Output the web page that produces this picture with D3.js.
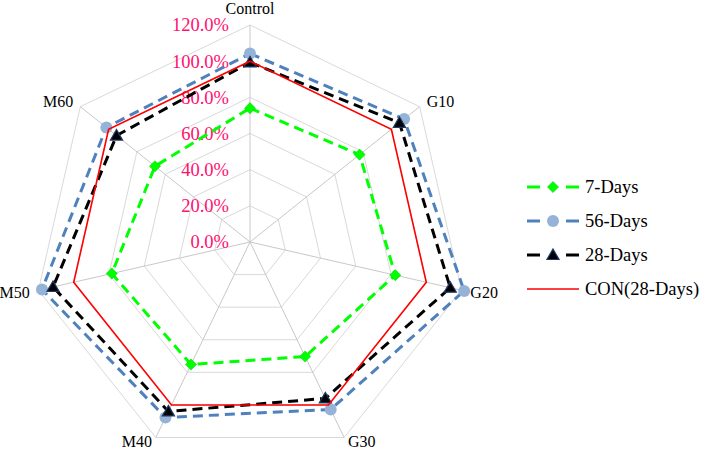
<!DOCTYPE html>
<html>
<head>
<meta charset="utf-8">
<script src="https://cdn.jsdelivr.net/npm/d3@7"></script>
<style>
html,body{margin:0;padding:0;background:#fff;}
svg{display:block;}
</style>
</head>
<body>
<svg id="chart" width="709" height="451"></svg>
<script>
const axes = ["Control","G10","G20","G30","M40","M50","M60"];
const days7  = [74, 77.5, 82.4, 70.3, 75.2, 78.4, 67.2];
const days56 = [104.2, 109, 121.5, 102.8, 107.7, 118, 101.6];
const days28 = [99.3, 105.7, 113.6, 96, 104, 111.7, 94.4];
const con28  = [100, 100, 100, 100, 100, 100, 100];
const ticks = [0, 20, 40, 60, 80, 100, 120];
const tickLabels = ["0.0%","20.0%","40.0%","60.0%","80.0%","100.0%","120.0%"];
const seriesNames = ["7-Days","56-Days","28-Days","CON(28-Days)"];

const svg = d3.select("#chart");
const cx = 250, cy = 242;
const r = d3.scaleLinear().domain([0, 120]).range([0, 217]);
const n = axes.length;
const ang = d3.scalePoint().domain(d3.range(n + 1)).range([0, 2 * Math.PI]);
const px = (i, v) => cx + r(v) * Math.sin(ang(i));
const py = (i, v) => cy - r(v) * Math.cos(ang(i));

const g = svg.append("g");

// grid rings
ticks.slice(1).forEach(t => {
  g.append("polygon")
    .attr("points", axes.map((_, i) => [px(i, t), py(i, t)].join(",")).join(" "))
    .attr("fill", "none").attr("stroke", "#d9d9d9").attr("stroke-width", 1);
});
// spokes
axes.forEach((_, i) => {
  g.append("line")
    .attr("x1", cx).attr("y1", cy)
    .attr("x2", px(i, 120)).attr("y2", py(i, 120))
    .attr("stroke", "#c8c8c8").attr("stroke-width", 1);
});

// tick labels
ticks.forEach((t, k) => {
  g.append("text")
    .attr("x", cx - 21).attr("y", cy - r(t)).attr("dy", "0.35em")
    .attr("text-anchor", "end")
    .attr("font-family", "Liberation Serif, serif").attr("font-size", "18.5px")
    .attr("fill", "#ff0f6f").text(tickLabels[k]);
});

// axis labels
axes.forEach((a, i) => {
  const s = Math.sin(ang(i)), c = Math.cos(ang(i));
  const t = g.append("text")
    .attr("font-family", "Liberation Serif, serif").attr("font-size", "16px")
    .attr("fill", "#000").text(a);
  if (i === 0) {
    t.attr("x", cx).attr("y", cy - r(120) - 11).attr("text-anchor", "middle");
  } else {
    const R = r(120) + 9;
    const yy = cy - R * c;
    t.attr("x", cx + R * s)
     .attr("y", c < -0.8 ? Math.min(yy + 3, 447) : yy)
     .attr("dy", c < -0.8 ? null : "0.35em")
     .attr("text-anchor", s > 0 ? "start" : "end");
  }
});

const series = [
  {name: seriesNames[0], data: days7,  color: "#00ff00", width: 3, dash: "10,6", marker: "diamond"},
  {name: seriesNames[1], data: days56, color: "#4f81bd", width: 3, dash: "10,6", marker: "circle"},
  {name: seriesNames[2], data: days28, color: "#000000", width: 3, dash: "10,6", marker: "triangle"},
  {name: seriesNames[3], data: con28,  color: "#ff0000", width: 1.6, dash: null, marker: null}
];

const line = d3.lineRadial()
  .angle((d, i) => ang(i))
  .radius(d => r(d))
  .curve(d3.curveLinearClosed);

function drawMarker(sel, type, x, y) {
  if (type === "diamond") {
    sel.append("path").attr("d", d3.symbol(d3.symbolSquare, 62)())
      .attr("transform", `translate(${x},${y}) rotate(45)`)
      .attr("fill", "#00ff00").attr("stroke", "#00cc00").attr("stroke-width", 0.5);
  } else if (type === "circle") {
    sel.append("circle").attr("cx", x).attr("cy", y).attr("r", 6)
      .attr("fill", "#95b3d7");
  } else if (type === "triangle") {
    sel.append("path").attr("d", d3.symbol(d3.symbolTriangle, 64)())
      .attr("transform", `translate(${x},${y + 1})`)
      .attr("fill", "#000").attr("stroke", "#1f3864").attr("stroke-width", 1.2);
  }
}

series.forEach(s => {
  const sg = g.append("g");
  sg.append("path")
    .attr("d", line(s.data))
    .attr("transform", `translate(${cx},${cy})`)
    .attr("fill", "none").attr("stroke", s.color).attr("stroke-width", s.width)
    .attr("stroke-dasharray", s.dash).attr("stroke-linejoin", "miter");
  if (s.marker) {
    s.data.forEach((v, i) => drawMarker(sg, s.marker, px(i, v), py(i, v)));
  }
});

// legend
const legY = [187, 221, 255, 289];
series.forEach((s, k) => {
  const lg = svg.append("g");
  const y = legY[k];
  lg.append("line").attr("x1", 527).attr("x2", 579).attr("y1", y).attr("y2", y)
    .attr("stroke", s.color).attr("stroke-width", s.width)
    .attr("stroke-dasharray", s.dash ? "13,26" : null);
  if (s.marker) drawMarker(lg, s.marker, 553, y);
  lg.append("text").attr("x", 585).attr("y", y).attr("dy", "0.35em")
    .attr("font-family", "Liberation Serif, serif").attr("font-size", "18.5px")
    .attr("fill", "#000").text(s.name);
});
</script>
</body>
</html>
